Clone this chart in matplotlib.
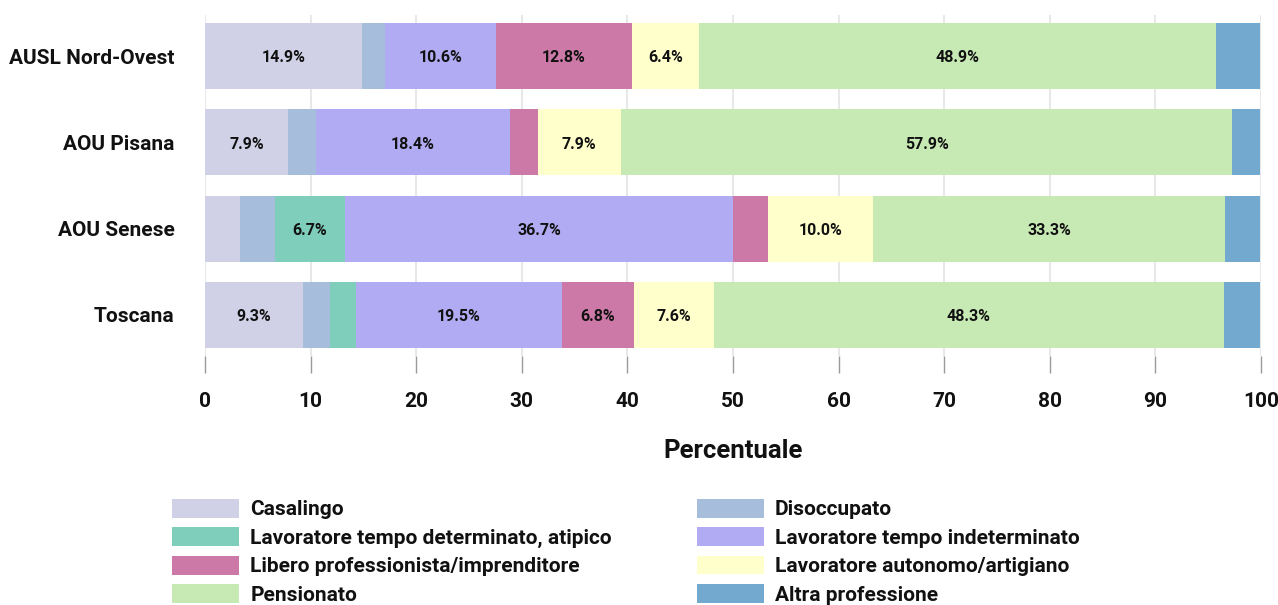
import matplotlib
matplotlib.use("Agg")
import matplotlib.pyplot as plt
from matplotlib.patches import Patch
import numpy as np

plt.rcParams['font.family'] = ['Roboto', 'DejaVu Sans']
plt.rcParams['font.weight'] = 'bold'

aree = ["AUSL Nord-Ovest", "AOU Pisana", "AOU Senese", "Toscana"]
categorie = ["Casalingo", "Disoccupato", "Lavoratore tempo determinato, atipico",
             "Lavoratore tempo indeterminato", "Libero professionista/imprenditore",
             "Lavoratore autonomo/artigiano", "Pensionato", "Altra professione"]
colori = ["#d0d1e6", "#a6bddb", "#7fcdbb", "#b1abf3", "#cc79a7", "#ffffcc", "#c7e9b4", "#74a9cf"]

casalingo = [14.9, 7.9, 3.3, 9.3]
disoccupato = [2.1, 2.6, 3.3, 2.5]
tempo_det = [0.0, 0.0, 6.7, 2.5]
tempo_indet = [10.6, 18.4, 36.7, 19.5]
libero = [12.8, 2.6, 3.3, 6.8]
autonomo = [6.4, 7.9, 10.0, 7.6]
pensionato = [48.9, 57.9, 33.3, 48.3]
altra = [4.2, 2.6, 3.3, 3.4]

serie = [casalingo, disoccupato, tempo_det, tempo_indet, libero, autonomo, pensionato, altra]
xticks = [0, 10, 20, 30, 40, 50, 60, 70, 80, 90, 100]

fig = plt.figure(figsize=(12.78, 6.05), dpi=100)
ax = fig.add_axes([0.1604, 0.4116, 0.8263, 0.5636])

y = np.arange(len(aree))
left = np.zeros(len(aree))
for vals, col, name in zip(serie, colori, categorie):
    vals = np.array(vals)
    bars = ax.barh(y, vals, left=left, height=0.765, color=col, label=name, zorder=2)
    for b, v in zip(bars, vals):
        if v >= 5:
            ax.text(b.get_x() + b.get_width() / 2, b.get_y() + b.get_height() / 2 + 0.02,
                    f"{v:.1f}%", ha="center", va="center", fontsize=11.5,
                    fontweight="bold", color="#111111", zorder=3)
    left += vals

ax.set_ylim(3.475, -0.475)
ax.set_xlim(0, 100)
ax.set_yticks(y)
ax.set_yticklabels(aree, fontsize=15, fontweight="bold", color="#111111")
ax.set_xticks(xticks)
ax.set_xticklabels([str(t) for t in xticks], fontsize=15, fontweight="bold", color="#111111")
ax.tick_params(axis="y", length=0, pad=22)
ax.tick_params(axis="x", length=12, width=1, color="#999999", pad=14)
ax.grid(axis="x", color="#e8e8e8", linewidth=1.5, zorder=0)
ax.set_axisbelow(True)
for s in ax.spines.values():
    s.set_visible(False)
ax.set_xlabel("Percentuale", fontsize=18.5, fontweight="bold", color="#111111", labelpad=20)

handles = [Patch(facecolor=c, edgecolor="none") for c in colori]
for colidx, xpos in [(0, 172 / 1278), (1, 697 / 1278)]:
    idxs = [colidx + 2 * k for k in range(4)]
    leg = fig.legend([handles[i] for i in idxs], [categorie[i] for i in idxs],
                     loc="upper left", bbox_to_anchor=(xpos, 1 - 499 / 605),
                     frameon=False, handlelength=3.2, handleheight=1.0,
                     handletextpad=0.55, labelspacing=0.38, borderaxespad=0, borderpad=0,
                     prop={"weight": "bold", "size": 15})
    for t in leg.get_texts():
        t.set_color("#111111")

fig.savefig("out.png", dpi=100)
